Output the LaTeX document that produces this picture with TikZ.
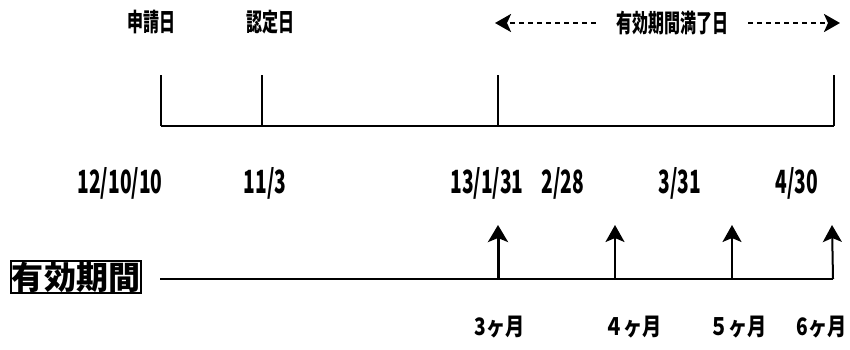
\documentclass[tikz,border=0pt]{standalone}
\usepackage{fontspec}
\setmainfont{Noto Sans CJK JP}
\usetikzlibrary{arrows.meta}
\begin{document}
\begin{tikzpicture}[x=1pt,y=-1pt,
  toplabel/.style={inner sep=0pt,font=\fontsize{25}{25}\selectfont\bfseries},
  datelabel/.style={inner sep=0pt,font=\fontsize{32}{32}\selectfont\bfseries},
  monthlabel/.style={inner sep=0pt,font=\fontsize{24}{24}\selectfont\bfseries},
  boxlabel/.style={draw,line width=1.6pt,inner xsep=1pt,inner ysep=1pt,font=\fontsize{32}{32}\selectfont\bfseries},
  axis/.style={line width=1.5pt},
  tick/.style={line width=1.5pt},
  dasharrow/.style={line width=2.6pt,dash pattern=on 5pt off 4pt,-{Stealth[length=16pt,width=18pt,inset=4pt]}},
  bigarrow/.style={line width=3pt,-{Stealth[length=17pt,width=20pt,inset=4pt]}},
  smallarrow/.style={line width=2pt,-{Stealth[length=17pt,width=19pt,inset=4pt]}}
]
\useasboundingbox (0,0) rectangle (850,349);
% top labels
\node[toplabel] (apply) at (151,22) {\scalebox{0.64}[1]{申請日}};
\node[toplabel] (cert) at (270,22) {\scalebox{0.64}[1]{認定日}};
\node[toplabel,inner xsep=20pt] (expiry) at (672,23) {\scalebox{0.64}[1]{有効期間満了日}};
\coordinate (la) at (495,23);
\coordinate (ra) at (840,23);
\draw[dasharrow] (expiry.west) -- (la);
\draw[dasharrow] (expiry.east) -- (ra);
% top timeline
\coordinate (t1top) at (161,75);
\coordinate (t2top) at (262,75);
\coordinate (t3top) at (498,75);
\coordinate (t4top) at (834,75);
\coordinate (t1) at (161,126);
\coordinate (t2) at (262,126);
\coordinate (t3) at (498,126);
\coordinate (t4) at (834,126);
\draw[axis] (t1) -- (t4);
\draw[tick] (t1top) -- (t1);
\draw[tick] (t2top) -- (t2);
\draw[tick] (t3top) -- (t3);
\draw[tick] (t4top) -- (t4);
% dates
\node[datelabel] (d1) at (120,183) {\scalebox{0.6}[1]{12/10/10}};
\node[datelabel] (d2) at (265,183) {\scalebox{0.6}[1]{11/3}};
\node[datelabel] (d3) at (487,183) {\scalebox{0.6}[1]{13/1/31}};
\node[datelabel] (d4) at (563,183) {\scalebox{0.6}[1]{2/28}};
\node[datelabel] (d5) at (680,183) {\scalebox{0.6}[1]{3/31}};
\node[datelabel] (d6) at (797,183) {\scalebox{0.6}[1]{4/30}};
% bottom line
\node[boxlabel] (valid) at (76,277) {有効期間};
\coordinate (l0) at (160,279);
\coordinate (b1) at (498,279);
\coordinate (b2) at (615,279);
\coordinate (b3) at (732,279);
\coordinate (b4) at (833,279);
\coordinate (a1) at (498,225);
\coordinate (a2) at (615,225);
\coordinate (a3) at (732,225);
\coordinate (a4) at (832,225);
\draw[axis,line width=2.4pt] (l0) -- (b4);
\draw[bigarrow] (b1) -- (a1);
\draw[smallarrow] (b2) -- (a2);
\draw[smallarrow] (b3) -- (a3);
\draw[smallarrow] (b4) -- (a4);
% months
\node[monthlabel] (m3) at (500,327) {\scalebox{0.8}[1]{3ヶ月}};
\node[monthlabel] (m4) at (633,327) {\scalebox{0.8}[1]{４ヶ月}};
\node[monthlabel] (m5) at (738,327) {\scalebox{0.8}[1]{５ヶ月}};
\node[monthlabel] (m6) at (822,327) {\scalebox{0.8}[1]{6ヶ月}};
\end{tikzpicture}
\end{document}
